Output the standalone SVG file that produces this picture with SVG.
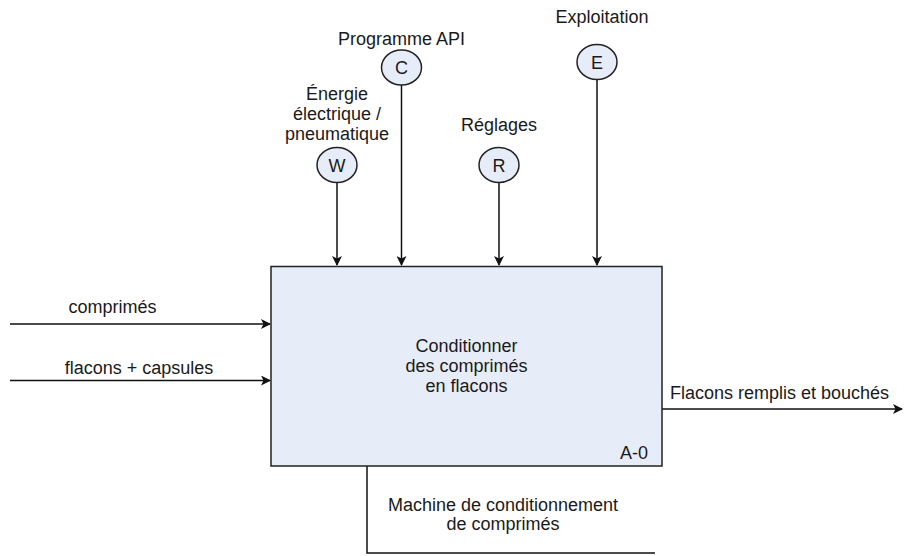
<svg xmlns="http://www.w3.org/2000/svg" width="904" height="556" viewBox="0 0 904 556">
<style>
text{font-family:"Liberation Sans",Arial,sans-serif;font-size:18px;fill:#1a1a1a}
.m{text-anchor:middle}
.ln{fill:none;stroke:#111;stroke-width:1.5}
.nd{fill:#e7edf8;stroke:#222;stroke-width:1.5}
</style>
<defs>
<marker id="ah" viewBox="0 0 10 10" refX="9" refY="5" markerWidth="10" markerHeight="10" markerUnits="userSpaceOnUse" orient="auto">
<path d="M0,0 L10,5 L0,10 L2.5,5 Z" fill="#111"/>
</marker>
</defs>
<rect width="904" height="556" fill="#fff"/>
<g id="connectors">
<line class="ln" x1="337" y1="183" x2="337" y2="265" marker-end="url(#ah)"/>
<line class="ln" x1="401.5" y1="85" x2="401.5" y2="265" marker-end="url(#ah)"/>
<line class="ln" x1="499" y1="183" x2="499" y2="265" marker-end="url(#ah)"/>
<line class="ln" x1="597" y1="80" x2="597" y2="265" marker-end="url(#ah)"/>
<line class="ln" x1="10" y1="324" x2="270" y2="324" marker-end="url(#ah)"/>
<line class="ln" x1="10" y1="380.5" x2="270" y2="380.5" marker-end="url(#ah)"/>
<line class="ln" x1="662" y1="409" x2="902" y2="409" marker-end="url(#ah)"/>
<polyline class="ln" points="367,466 367,553 655,553"/>
<text x="112.5" y="313" class="m">comprimés</text>
<text x="139" y="374" class="m">flacons + capsules</text>
<text x="670" y="399">Flacons remplis et bouchés</text>
<text x="503" y="511" class="m">Machine de conditionnement</text>
<text x="503" y="530" class="m">de comprimés</text>
</g>
<g id="A0">
<rect class="nd" x="271" y="266.5" width="391" height="199.5"/>
<text x="466.5" y="352" class="m">Conditionner</text>
<text x="466.5" y="372" class="m">des comprimés</text>
<text x="466.5" y="392" class="m">en flacons</text>
<text x="648" y="459" text-anchor="end">A-0</text>
</g>
<g id="W">
<ellipse class="nd" cx="337" cy="165" rx="20" ry="17.5"/>
<text x="337" y="171.5" class="m">W</text>
<text x="337" y="100" class="m">Énergie</text>
<text x="337" y="120" class="m">électrique /</text>
<text x="337" y="140" class="m">pneumatique</text>
</g>
<g id="C">
<ellipse class="nd" cx="401.5" cy="67.5" rx="20" ry="17.5"/>
<text x="401.5" y="74" class="m">C</text>
<text x="401.5" y="45" class="m">Programme API</text>
</g>
<g id="R">
<ellipse class="nd" cx="499" cy="165" rx="20" ry="17.5"/>
<text x="499" y="171.5" class="m">R</text>
<text x="499" y="131" class="m">Réglages</text>
</g>
<g id="E">
<ellipse class="nd" cx="597" cy="62" rx="20" ry="17.5"/>
<text x="597" y="68.5" class="m">E</text>
<text x="602" y="23" class="m">Exploitation</text>
</g>
</svg>
